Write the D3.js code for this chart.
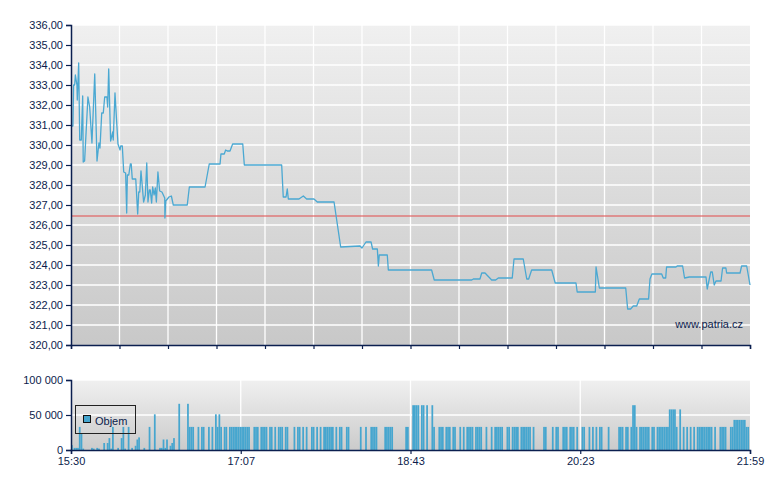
<!DOCTYPE html>
<html><head><meta charset="utf-8">
<script src="https://cdn.jsdelivr.net/npm/d3@7"></script>
<style>body{margin:0;background:#fff}svg{display:block}text{font-family:"Liberation Sans",Arial,sans-serif;font-size:11px;fill:#0c1c4c}</style>
</head><body><svg id="c" width="780" height="490"></svg>
<script>
// x values: minutes since 15:30 (session 15:30 - 21:59)
const xLabels = ["15:30","17:07","18:43","20:23","21:59"];
const priceTicks = [320,321,322,323,324,325,326,327,328,329,330,331,332,333,334,335,336];
const volumeTicks = [0,50000,100000];
const referencePrice = 326.45;
const priceMinutes = [0,1.1,1.5,2.1,2.5,3.4,3.6,4.4,5.0,5.9,6.7,7.0,7.8,9.7,10.7,12.0,13.6,14.9,16.0,16.6,17.6,18.5,19.3,20.6,21.0,21.6,22.7,23.9,24.2,25.2,26.9,28.1,28.5,29.4,30.2,31.3,31.9,32.3,33.1,34.0,34.5,35.1,37.1,38.2,38.8,39.4,40.1,41.6,42.6,43.4,44.1,44.9,45.4,46.2,46.8,47.6,48.3,48.9,49.8,50.8,52.1,53.7,53.8,54.3,56.1,57.5,58.6,66.6,67.8,76.8,79.2,85.4,85.9,87.8,88.6,89.5,91.1,92.6,98.4,99.3,120.7,121.6,123.2,123.9,124.5,130.6,133.1,135.0,139.2,141.1,150.7,154.5,165.6,166.7,169.0,171.9,172.8,175.5,176.1,176.6,181.2,181.8,206.6,208.1,229.6,230.5,234.3,235.3,237.2,241.0,243.3,244.8,252.8,253.8,259.1,261.1,262.2,263.9,275.4,277.4,289.3,290.0,300.4,300.8,302.7,317.8,318.9,320.6,322.1,324.1,325.6,330.9,331.7,332.8,338.4,339.3,340.7,341.2,346.6,347.3,350.4,351.5,354.2,363.8,364.5,366.5,367.4,368.5,369.5,372.4,373.3,375.2,375.6,383.3,384.2,387.1,389];
const priceValues = [330.95,330.95,333.0,333.0,333.5,333.0,332.25,334.1,330.25,330.25,332.45,329.15,329.2,332.4,331.9,330.1,333.55,329.2,330.1,329.85,331.6,331.6,332.4,332.4,331.9,333.8,330.2,330.65,330.25,332.6,330.05,329.75,329.95,329.95,328.65,328.6,326.6,328.5,328.5,329.05,329.05,328.3,328.3,326.55,327.65,327.65,328.7,327.15,327.5,329.1,327.15,327.75,327.75,327.1,327.9,327.5,327.85,327.15,328.65,327.7,327.65,327.35,326.35,327.2,327.4,327.45,327.0,327.0,327.9,327.9,329.05,329.05,329.55,329.55,329.75,329.7,329.7,330.05,330.05,329.0,329.0,327.4,327.4,327.8,327.3,327.3,327.45,327.3,327.3,327.15,327.15,324.9,324.95,324.85,325.15,325.15,324.8,324.8,323.95,324.5,324.5,323.75,323.75,323.25,323.25,323.3,323.3,323.6,323.6,323.25,323.25,323.35,323.35,324.3,324.3,323.3,323.3,323.75,323.75,323.1,323.1,322.65,322.65,323.9,322.85,322.85,321.8,321.8,321.95,321.95,322.3,322.3,323.3,323.55,323.55,323.35,323.35,323.9,323.9,323.95,323.95,323.35,323.4,323.4,322.8,323.65,323.65,323.0,323.2,323.2,323.85,323.85,323.6,323.6,323.95,323.95,323.0];
const volumeMinutes = [0,2,3,4,5,6,7,12,13,15,16,19,21,22,23,24,27,29,30,31,33,35,37,38,39,42,45,48,51,52,53,54,55,57,58,59,62,67,68,69,70,73,75,76,79,81,83,84,85,86,88,89,91,92,93,94,95,96,97,98,99,100,101,102,105,106,107,109,110,111,112,114,115,117,119,120,121,123,124,128,130,131,133,135,138,139,141,143,145,146,147,148,149,150,152,154,155,158,159,166,169,172,173,174,175,180,181,182,183,184,192,193,196,197,198,199,201,202,204,207,208,211,212,213,215,216,217,219,220,223,225,227,228,229,230,232,233,234,235,238,241,243,244,245,246,247,250,251,253,254,255,256,258,259,260,261,262,263,265,271,272,276,278,279,282,283,284,286,287,288,290,293,294,297,299,301,303,304,308,314,315,316,318,319,321,322,323,324,326,327,328,329,330,331,333,334,336,337,338,339,340,341,342,343,344,345,346,347,349,351,353,355,357,359,360,361,362,363,364,365,366,367,369,372,373,374,375,378,379,380,381,382,383,384,385,386,387,388];
const volumeValues = [7000,3000,3000,3000,33000,23000,2000,3000,2000,3000,2000,10000,10000,17000,2000,33000,3000,17000,33000,2000,33000,3000,6000,15000,18000,3000,33000,51000,3000,3000,15000,3000,15000,6000,10000,17000,66000,66000,33000,33000,33000,33000,33000,33000,33000,33000,51000,33000,51000,33000,33000,33000,33000,33000,33000,33000,33000,33000,33000,33000,33000,33000,33000,33000,33000,33000,33000,33000,33000,33000,33000,33000,33000,33000,33000,33000,33000,33000,33000,33000,33000,33000,33000,33000,33000,33000,33000,33000,33000,33000,33000,33000,33000,33000,33000,33000,33000,33000,33000,33000,33000,33000,33000,33000,33000,33000,33000,33000,33000,33000,33000,33000,64000,64000,64000,64000,64000,64000,64000,64000,33000,33000,33000,33000,33000,33000,33000,33000,33000,33000,33000,33000,33000,33000,33000,33000,33000,33000,33000,33000,33000,33000,33000,33000,33000,33000,33000,33000,33000,33000,33000,33000,33000,33000,33000,33000,33000,33000,33000,33000,33000,33000,33000,33000,33000,33000,33000,33000,33000,33000,33000,33000,33000,33000,33000,33000,33000,33000,33000,33000,33000,33000,33000,33000,33000,64000,64000,33000,33000,33000,33000,33000,33000,33000,33000,33000,33000,33000,33000,33000,33000,33000,33000,58000,58000,58000,58000,33000,58000,33000,33000,33000,33000,33000,33000,33000,33000,33000,33000,33000,33000,33000,33000,33000,33000,33000,33000,33000,33000,43000,43000,43000,43000,43000,43000,43000,33000,33000,33000,33000,33000];

const svg = d3.select("#c");
const L = 71, R = 750;
const loc = d3.formatLocale({decimal: ",", thousands: " ", grouping: [3], currency: ["", ""]});
const fPrice = loc.format(".2f"), fVol = loc.format(",d");
const axisColor = "#0b1f4f";

const x = d3.scaleLinear().domain([0, 389]).range([L, R]);
const y = d3.scaleLinear().domain([320, 336]).range([345, 25]);
const yv = d3.scaleLinear().domain([0, 100000]).range([450, 380]);

const defs = svg.append("defs");
function grad(id, c1, c2) {
  const g = defs.append("linearGradient").attr("id", id).attr("x1", 0).attr("y1", 0).attr("x2", 0).attr("y2", 1);
  g.append("stop").attr("offset", "0%").attr("stop-color", c1);
  g.append("stop").attr("offset", "100%").attr("stop-color", c2);
}
grad("gMain", "#f0f0f0", "#c8c8c8");
grad("gVol", "#f0f0f0", "#cbcbcb");

// ---- main pane ----
svg.append("rect").attr("x", L).attr("y", 25).attr("width", R - L).attr("height", 320).attr("fill", "url(#gMain)");
const mainDiv = d3.range(15).map(k => k * 389 / 14);
svg.append("g").selectAll("line").data(priceTicks.slice(1)).join("line")
  .attr("x1", L).attr("x2", R).attr("y1", d => y(d)).attr("y2", d => y(d))
  .attr("stroke", "#fff").attr("stroke-width", 1.3);
svg.append("g").selectAll("line").data(mainDiv.slice(1, -1)).join("line")
  .attr("x1", d => x(d)).attr("x2", d => x(d)).attr("y1", 25).attr("y2", 345)
  .attr("stroke", "#fff").attr("stroke-width", 1.3);

svg.append("line").attr("x1", L).attr("x2", R).attr("y1", y(referencePrice)).attr("y2", y(referencePrice))
  .attr("stroke", "#e05a5a").attr("stroke-opacity", 0.75).attr("stroke-width", 1.6);

const pts = priceMinutes.map((m, i) => [m, priceValues[i]]);
svg.append("path").datum(pts)
  .attr("d", d3.line().x(d => x(d[0])).y(d => y(d[1])))
  .attr("fill", "none").attr("stroke", "#4aa8d2").attr("stroke-width", 1.3).attr("stroke-linejoin", "round");

const yAxis = svg.append("g").attr("transform", `translate(${L},0)`)
  .call(d3.axisLeft(y).tickValues(priceTicks).tickFormat(fPrice).tickSize(5).tickPadding(3));
const xAxisMain = svg.append("g").attr("transform", "translate(0,345)")
  .call(d3.axisBottom(x).tickValues(mainDiv).tickFormat("").tickSize(4));

svg.append("text").attr("x", 743).attr("y", 328).attr("text-anchor", "end").text("www.patria.cz");

// ---- volume pane ----
svg.append("rect").attr("x", L).attr("y", 380).attr("width", R - L).attr("height", 70).attr("fill", "url(#gVol)");
svg.append("line").attr("x1", L).attr("x2", R).attr("y1", yv(50000)).attr("y2", yv(50000)).attr("stroke", "#fff").attr("stroke-width", 1.3);
svg.append("line").attr("x1", L).attr("x2", R).attr("y1", yv(100000) + 0.5).attr("y2", yv(100000) + 0.5).attr("stroke", "#fafafa").attr("stroke-width", 1);
const volDiv = d3.range(5).map(k => k * 389 / 4);
svg.append("g").selectAll("line").data(volDiv.slice(1, -1)).join("line")
  .attr("x1", d => x(d)).attr("x2", d => x(d)).attr("y1", 380).attr("y2", 450)
  .attr("stroke", "#fff").attr("stroke-width", 1.3);

const step = x(1) - x(0);
const vol = volumeMinutes.map((m, i) => [m, volumeValues[i]]);
svg.append("g").selectAll("rect").data(vol).join("rect")
  .attr("x", d => Math.max(L, x(d[0] - 0.5)))
  .attr("width", d => Math.min(step, R - x(d[0] - 0.5)))
  .attr("y", d => yv(d[1])).attr("height", d => yv(0) - yv(d[1]))
  .attr("fill", "#46a6cf");

svg.append("g").attr("transform", `translate(${L},0)`)
  .call(d3.axisLeft(yv).tickValues(volumeTicks).tickFormat(fVol).tickSize(5).tickPadding(3));
svg.append("g").attr("transform", "translate(0,450)")
  .call(d3.axisBottom(x).tickValues(volDiv).tickFormat((d, i) => xLabels[i]).tickSize(4).tickPadding(3));

// legend
svg.append("rect").attr("x", 75.5).attr("y", 405.5).attr("width", 60).attr("height", 28)
  .attr("fill", "none").attr("stroke", "#222").attr("stroke-width", 1);
svg.append("rect").attr("x", 83.5).attr("y", 415.5).attr("width", 7).attr("height", 7)
  .attr("fill", "#46a6cf").attr("stroke", "#111").attr("stroke-width", 1);
svg.append("text").attr("x", 95).attr("y", 424.5).text("Objem");

// axis styling
svg.selectAll(".domain").attr("stroke", axisColor).attr("stroke-width", 1.5);
svg.selectAll(".tick line").attr("stroke", axisColor).attr("stroke-width", 1.2);
svg.selectAll(".tick text").attr("fill", "#0c1c4c").style("font-family", '"Liberation Sans",Arial,sans-serif').style("font-size", "11px");
</script></body></html>
